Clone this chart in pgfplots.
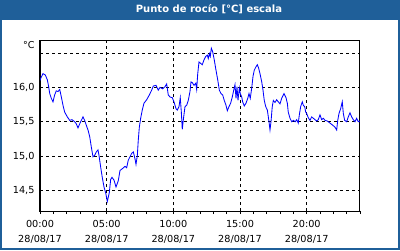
\documentclass[border=0pt]{standalone}
\usepackage{pgfplots}
\pgfplotsset{compat=1.18}
\usepackage{fontspec}
\setmainfont{DejaVu Sans}
\definecolor{barblue}{RGB}{31,95,153}
\begin{document}
\begin{tikzpicture}[x=1pt,y=1pt]
\useasboundingbox (0,0) rectangle (400,250);
\fill[white] (0,0) rectangle (400,250);
\fill[barblue] (0,230) rectangle (400,250);
\draw[barblue,line width=2pt] (1,1) rectangle (399,249);
\node[text=white,font=\fontsize{10}{12}\selectfont\bfseries] at (209,240.5) {Punto de rocío [°C] escala};
\node[font=\fontsize{9.5}{11}\selectfont,anchor=east] at (38,205) {°C};
\begin{axis}[
  at={(40pt,39pt)}, anchor=south west,
  width=320pt, height=171pt, scale only axis,
  xmin=0, xmax=24, ymin=14.20, ymax=16.69,
  xtick={0,5,10,15,20},
  xticklabels={{00:00\\28/08/17},{05:00\\28/08/17},{10:00\\28/08/17},{15:00\\28/08/17},{20:00\\28/08/17}},
  minor xtick={1,2,3,4,6,7,8,9,11,12,13,14,16,17,18,19,21,22,23,24},
  ytick={14.5,15,15.5,16,16.5},
  yticklabels={{14,5},{15,0},{15,5},{16,0},{}},
  xtick pos=bottom, ytick pos=left,
  tick align=outside,
  major tick length=3pt, minor tick length=3pt,
  ytick style={draw=none},
  xtick style={black, line width=0.8pt},
  grid=major,
  major grid style={black, dash pattern=on 3pt off 3pt, line width=0.8pt},
  axis line style={black, line width=1pt},
  ticklabel style={font=\fontsize{9.7}{15}\selectfont},
  xticklabel style={align=center, yshift=-3pt},
  yticklabel style={xshift=1pt},
  /pgf/number format/assume math mode=true,
]
\addplot[blue, line width=0.85pt] coordinates {
(0.00,16.10)(0.05,16.13)(0.225,16.20)(0.40,16.18)(0.55,16.11)(0.65,16.01)(0.73,15.91)(0.85,15.84)(0.975,15.79)
(1.10,15.89)(1.22,15.95)(1.35,15.94)(1.48,15.97)(1.60,15.86)(1.725,15.74)(1.85,15.64)(2.05,15.57)(2.23,15.52)
(2.40,15.53)(2.60,15.50)(2.72,15.47)(2.85,15.41)(2.98,15.47)(3.10,15.52)(3.225,15.57)(3.35,15.52)(3.47,15.45)
(3.60,15.38)(3.73,15.28)(3.85,15.13)(3.975,14.99)(4.10,15.01)(4.22,15.06)(4.35,15.09)(4.425,15.01)(4.55,14.84)
(4.67,14.69)(4.80,14.55)(4.93,14.46)(5.05,14.34)(5.12,14.40)(5.20,14.47)(5.30,14.66)(5.40,14.69)(5.55,14.65)
(5.70,14.55)(5.87,14.64)(6.00,14.79)(6.20,14.82)(6.375,14.85)(6.50,14.83)(6.62,14.94)(6.75,14.99)(6.88,15.04)
(7.00,15.06)(7.125,14.96)(7.20,14.88)(7.30,15.01)(7.37,15.23)(7.45,15.42)(7.55,15.55)(7.67,15.67)(7.80,15.77)
(8.00,15.82)(8.20,15.89)(8.375,15.96)(8.50,16.02)(8.70,16.03)(8.87,15.96)(9.00,16.00)(9.20,15.98)(9.375,16.01)
(9.50,16.05)(9.62,15.89)(9.75,15.86)(9.92,15.85)(10.05,15.79)(10.20,15.69)(10.30,15.67)(10.425,15.72)(10.52,15.85)
(10.60,15.64)(10.67,15.39)(10.75,15.53)(10.875,15.72)(11.00,15.74)(11.12,15.81)(11.25,15.94)(11.325,16.08)
(11.42,16.07)(11.55,16.03)(11.68,16.06)(11.75,15.97)(11.83,16.20)(11.925,16.37)(12.05,16.35)(12.17,16.33)
(12.30,16.40)(12.43,16.45)(12.55,16.47)(12.62,16.42)(12.70,16.49)(12.77,16.45)(12.85,16.57)(12.95,16.52)
(13.07,16.40)(13.20,16.25)(13.33,16.11)(13.45,15.96)(13.575,15.91)(13.70,15.89)(13.82,15.81)(13.95,15.74)
(14.05,15.66)(14.175,15.72)(14.30,15.77)(14.42,15.86)(14.53,15.96)(14.625,16.04)(14.70,15.84)(14.775,16.01)
(14.85,15.81)(14.95,15.99)(15.02,15.91)(15.13,15.86)(15.20,15.79)(15.32,15.73)(15.45,15.77)(15.58,15.84)
(15.675,15.91)(15.77,15.84)(15.88,15.99)(15.975,16.16)(16.07,16.25)(16.20,16.30)(16.30,16.33)(16.40,16.28)
(16.50,16.20)(16.63,16.08)(16.725,15.96)(16.82,15.81)(16.93,15.72)(17.05,15.67)(17.175,15.50)(17.25,15.38)
(17.325,15.50)(17.42,15.72)(17.50,15.81)(17.625,15.78)(17.75,15.82)(17.87,15.79)(18.00,15.76)(18.125,15.84)
(18.30,15.91)(18.45,15.85)(18.55,15.77)(18.62,15.64)(18.75,15.55)(18.88,15.50)(19.00,15.52)(19.15,15.50)
(19.25,15.53)(19.37,15.48)(19.45,15.60)(19.55,15.72)(19.67,15.79)(19.75,15.74)(19.85,15.72)(19.93,15.64)
(20.00,15.62)(20.12,15.56)(20.25,15.52)(20.375,15.57)(20.50,15.55)(20.625,15.53)(20.75,15.51)(20.87,15.53)
(21.00,15.60)(21.125,15.53)(21.25,15.55)(21.375,15.52)(21.55,15.51)(21.75,15.48)(21.95,15.45)(22.125,15.42)
(22.25,15.38)(22.33,15.52)(22.425,15.62)(22.55,15.69)(22.67,15.79)(22.75,15.62)(22.85,15.52)(23.00,15.50)
(23.12,15.57)(23.25,15.63)(23.375,15.57)(23.50,15.53)(23.625,15.50)(23.75,15.55)(23.87,15.50)(24.00,15.51)
};
\end{axis}
\end{tikzpicture}
\end{document}
